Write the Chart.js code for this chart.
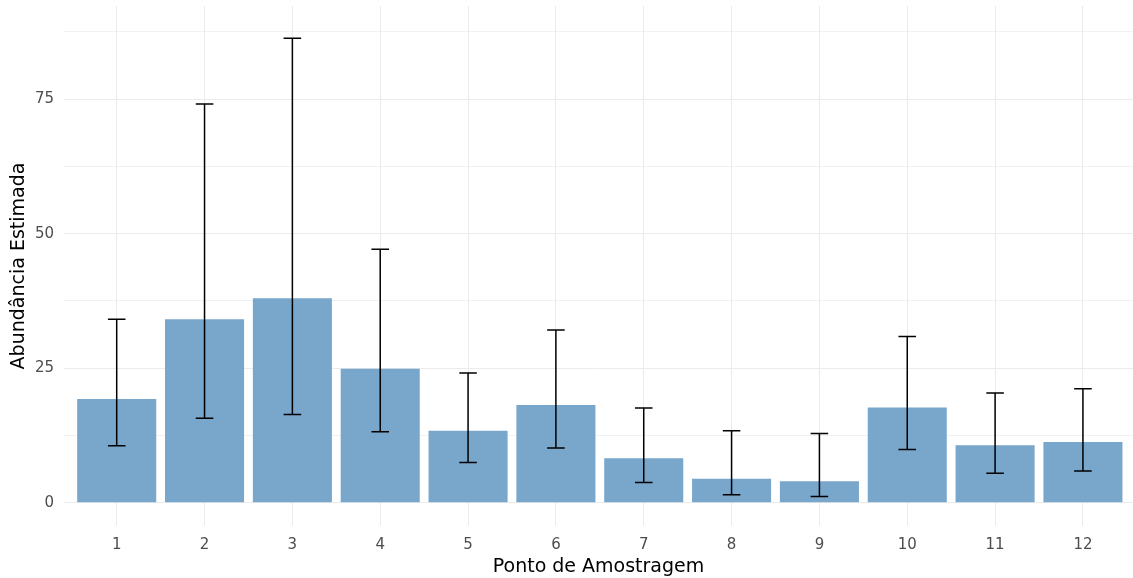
<!DOCTYPE html>
<html>
<head>
<meta charset="utf-8">
<script src="https://cdn.jsdelivr.net/npm/chart.js@4/dist/chart.umd.min.js"></script>
<style>
  html, body { margin: 0; padding: 0; background: #fff; }
  #wrap { width: 1133px; height: 578px; }
</style>
</head>
<body>
<div id="wrap"><canvas id="chart" width="1133" height="578"></canvas></div>
<script>
// sampling points and estimated abundance with CI bounds
const pontos = [1, 2, 3, 4, 5, 6, 7, 8, 9, 10, 11, 12];
const abundancia = [19.3, 34.1, 38.0, 24.9, 13.4, 18.2, 8.3, 4.5, 4.0, 17.7, 10.7, 11.3];
const limInferior = [10.6, 15.7, 16.4, 13.2, 7.5, 10.2, 3.8, 1.5, 1.2, 9.9, 5.5, 5.9];
const limSuperior = [34.1, 74.1, 86.3, 47.1, 24.1, 32.1, 17.6, 13.4, 12.9, 30.9, 20.4, 21.2];
const yTicks = [0, 12.5, 25, 37.5, 50, 62.5, 75, 87.5];
const yLabels = [0, 25, 50, 75];

const fontFamily = '"DejaVu Sans", "Liberation Sans", sans-serif';

// draws the error bars on top of the bars
const errorBars = {
  id: 'errorBars',
  afterDatasetsDraw(chart) {
    const { ctx, scales: { x, y } } = chart;
    const halfCap = (x.getPixelForValue(1.1) - x.getPixelForValue(1));
    ctx.save();
    ctx.strokeStyle = '#000';
    ctx.lineWidth = 1.5;
    pontos.forEach((p, i) => {
      const px = x.getPixelForValue(p);
      const top = y.getPixelForValue(limSuperior[i]);
      const bot = y.getPixelForValue(limInferior[i]);
      ctx.beginPath();
      ctx.moveTo(px, top);
      ctx.lineTo(px, bot);
      ctx.moveTo(px - halfCap, top);
      ctx.lineTo(px + halfCap, top);
      ctx.moveTo(px - halfCap, bot);
      ctx.lineTo(px + halfCap, bot);
      ctx.stroke();
    });
    ctx.restore();
  }
};

new Chart(document.getElementById('chart'), {
  type: 'bar',
  data: {
    datasets: [{
      data: pontos.map((p, i) => ({ x: p, y: abundancia[i] })),
      backgroundColor: '#79a6cb',
      borderWidth: 0,
      categoryPercentage: 1,
      barPercentage: 0.9
    }]
  },
  options: {
    responsive: false,
    animation: false,
    layout: { padding: { top: 6, right: 0, left: 0, bottom: 0 } },
    plugins: { legend: { display: false }, tooltip: { enabled: false } },
    scales: {
      x: {
        type: 'linear',
        offset: false,
        min: 0.4,
        max: 12.57,
        afterBuildTicks: s => { s.ticks = pontos.map(v => ({ value: v })); },
        afterFit: s => { s.height = 52; s.paddingLeft = 0; s.paddingRight = 0; },
        border: { display: false },
        grid: { color: '#ebebeb', lineWidth: 1, drawTicks: false, offset: false },
        ticks: {
          padding: 10,
          color: '#4d4d4d',
          font: { family: fontFamily, size: 15 },
          maxRotation: 0,
          callback: v => String(v)
        },
        title: {
          display: true,
          text: 'Ponto de Amostragem',
          color: '#000',
          font: { family: fontFamily, size: 19 },
          padding: { top: 0, bottom: 0 }
        }
      },
      y: {
        min: -4.3,
        max: 92.3,
        afterBuildTicks: s => { s.ticks = yTicks.map(v => ({ value: v })); },
        afterFit: s => { s.width = 64; s.paddingTop = 0; s.paddingBottom = 0; },
        border: { display: false },
        grid: {
          color: '#ebebeb',
          lineWidth: c => (yLabels.includes(c.tick && c.tick.value) ? 1 : 0.7),
          drawTicks: false
        },
        ticks: {
          padding: 10,
          color: '#4d4d4d',
          font: { family: fontFamily, size: 15 },
          callback: v => (yLabels.includes(v) ? String(v) : '')
        },
        title: {
          display: true,
          text: 'Abundância Estimada',
          color: '#000',
          font: { family: fontFamily, size: 19 },
          padding: { top: 8, bottom: 0 }
        }
      }
    }
  },
  plugins: [errorBars]
});
</script>
</body>
</html>
